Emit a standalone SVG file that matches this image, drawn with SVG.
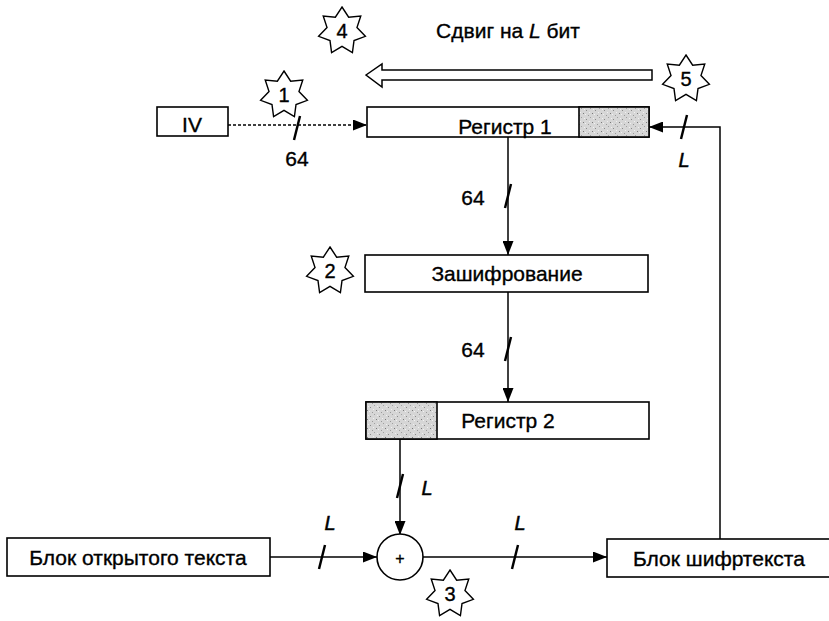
<svg xmlns="http://www.w3.org/2000/svg" width="829" height="621" viewBox="0 0 829 621">
<style>
.box{fill:#fff;stroke:#000;stroke-width:1.6}
.shade{fill:url(#stipple);stroke:#000;stroke-width:1.6}
.ln{fill:none;stroke:#000;stroke-width:1.5}
.dash{fill:none;stroke:#000;stroke-width:1.5;stroke-dasharray:3 2}
.sl{fill:none;stroke:#000;stroke-width:2.4}
.t{font-family:"Liberation Sans",Arial,sans-serif;font-size:21px;fill:#000;stroke:#000;stroke-width:0.35;text-anchor:middle;dominant-baseline:central}
.n{font-family:"Liberation Sans",Arial,sans-serif;font-size:20px;fill:#000;stroke:#000;stroke-width:0.35;text-anchor:middle;dominant-baseline:central}
.it{font-family:"Liberation Sans",Arial,sans-serif;font-size:20px;font-style:italic;fill:#000;stroke:#000;stroke-width:0.5;text-anchor:middle;dominant-baseline:central}
.star{fill:#fff;stroke:#000;stroke-width:1.4;stroke-linejoin:miter}
</style>
<defs>
<pattern id="stipple" width="9" height="9" patternUnits="userSpaceOnUse">
<rect width="9" height="9" fill="#d6d6d6"/>
<rect x="1" y="2" width="1" height="1" fill="#8a8a8a"/>
<rect x="5" y="0" width="1" height="1" fill="#a0a0a0"/>
<rect x="7" y="5" width="1" height="1" fill="#7a7a7a"/>
<rect x="3" y="7" width="1" height="1" fill="#999"/>
<rect x="4" y="4" width="1" height="1" fill="#f0f0f0"/>
<rect x="0" y="6" width="1" height="1" fill="#f2f2f2"/>
<rect x="8" y="1" width="1" height="1" fill="#efefef"/>
</pattern>
<marker id="ah" markerWidth="14" markerHeight="11" refX="14" refY="5.5" orient="auto" markerUnits="userSpaceOnUse">
<path d="M0,0 L14,5.5 L0,11 Z" fill="#000"/>
</marker>
<path id="st" d="M0,-24 L6.66,-13.84 L18.77,-14.96 L14.97,-3.42 L23.4,5.34 L12.01,9.58 L10.41,21.62 L0,15.36 L-10.41,21.62 L-12.01,9.58 L-23.4,5.34 L-14.97,-3.42 L-18.77,-14.96 L-6.66,-13.84 Z"/>
</defs>

<g id="connectors">
<line class="dash" x1="228" y1="125" x2="367" y2="125" marker-end="url(#ah)"/>
<line class="sl" x1="294" y1="140" x2="300" y2="116"/>
<line class="ln" x1="508" y1="137" x2="508" y2="255" marker-end="url(#ah)"/>
<line class="sl" x1="505" y1="208" x2="511" y2="184"/>
<line class="ln" x1="508" y1="292" x2="508" y2="402" marker-end="url(#ah)"/>
<line class="sl" x1="505" y1="361" x2="511" y2="337"/>
<line class="ln" x1="400" y1="439" x2="400" y2="535" marker-end="url(#ah)"/>
<line class="sl" x1="397" y1="498" x2="403" y2="474"/>
<line class="ln" x1="270" y1="557" x2="377" y2="557" marker-end="url(#ah)"/>
<line class="sl" x1="319" y1="569" x2="325" y2="545"/>
<line class="ln" x1="423" y1="557" x2="607" y2="557" marker-end="url(#ah)"/>
<line class="sl" x1="512" y1="569" x2="518" y2="545"/>
<polyline class="ln" points="720,539 720,127 649,127" marker-end="url(#ah)"/>
<line class="sl" x1="681" y1="139" x2="687" y2="115"/>
<polygon points="366,75 382,64 382,70 652,70 652,80 382,80 382,87" fill="#fff" stroke="#000" stroke-width="1.5"/>
</g>

<g id="iv"><rect class="box" x="157" y="107" width="71" height="29"/><text class="t" x="192" y="124">IV</text></g>
<g id="reg1"><rect class="box" x="367" y="107" width="282" height="30"/><rect class="shade" x="579" y="107" width="70" height="30"/><text class="t" x="505" y="126">Регистр 1</text></g>
<g id="enc"><rect class="box" x="365" y="255" width="283" height="37"/><text class="t" x="507" y="273">Зашифрование</text></g>
<g id="reg2"><rect class="box" x="366" y="402" width="283" height="37"/><rect class="shade" x="366" y="402" width="71" height="37"/><text class="t" x="508" y="420">Регистр 2</text></g>
<g id="plain"><rect class="box" x="7" y="538" width="263" height="38"/><text class="t" x="138" y="557">Блок открытого текста</text></g>
<g id="cipher"><rect class="box" x="607" y="539" width="240" height="38"/><text class="t" x="719" y="558">Блок шифртекста</text></g>
<g id="xor"><circle class="box" cx="400" cy="557" r="23"/><text class="t" x="400" y="558" style="font-size:16px">+</text></g>

<g id="labels">
<text class="t" x="508" y="30">Сдвиг на <tspan font-style="italic">L</tspan> бит</text>
<text class="t" x="297" y="158">64</text>
<text class="t" x="473" y="197">64</text>
<text class="t" x="473" y="349">64</text>
<text class="it" x="684" y="160">L</text>
<text class="it" x="427" y="488">L</text>
<text class="it" x="330" y="523">L</text>
<text class="it" x="520" y="523">L</text>
</g>

<g id="star1"><use href="#st" class="star" x="284" y="95"/><text class="n" x="284" y="95">1</text></g>
<g id="star2"><use href="#st" class="star" x="330" y="271"/><text class="n" x="330" y="271">2</text></g>
<g id="star3"><use href="#st" class="star" x="450" y="594"/><text class="n" x="450" y="594">3</text></g>
<g id="star4"><use href="#st" class="star" x="342" y="31"/><text class="n" x="342" y="31">4</text></g>
<g id="star5"><use href="#st" class="star" x="686" y="79"/><text class="n" x="686" y="79">5</text></g>
</svg>
